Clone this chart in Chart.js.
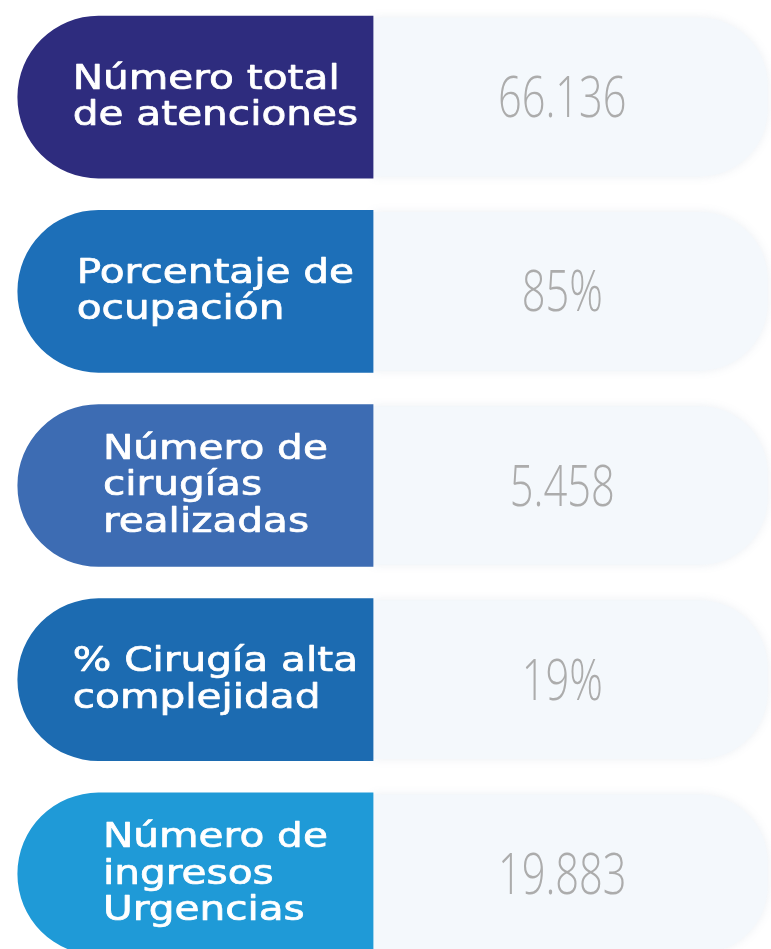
<!DOCTYPE html>
<html lang="es">
<head>
<meta charset="utf-8">
<title>Indicadores</title>
<script src="https://cdn.jsdelivr.net/npm/chart.js@4.4.1/dist/chart.umd.min.js"></script>
<style>
    html, body { margin: 0; padding: 0; background: #ffffff; }
    #marco { width: 771px; height: 949px; overflow: hidden; }
    canvas { display: block; }
</style>
</head>
<body>
<div id="marco"><canvas id="indicadores" width="771" height="971"></canvas></div>
<script>
// ===============================
// DATOS
// ===============================
const categorias = [
    ["Número total", "de atenciones"],
    ["Porcentaje de", "ocupación"],
    ["Número de", "cirugías", "realizadas"],
    ["% Cirugía alta", "complejidad"],
    ["Número de", "ingresos", "Urgencias"]
];
const valores = [66136, 85, 5458, 19, 19883];
const unidades = ["", "%", "", "%", ""];

const coloresEtiqueta = ["#2e2c7e", "#1d6fb8", "#3d6cb3", "#1c6bb1", "#1f9ad7"];
const colorFondo = "#f4f8fc";

// separador de miles con punto
function formatear(v, u) {
    return String(v).replace(/\B(?=(\d{3})+(?!\d))/g, ".") + u;
}

// sombra suave bajo la parte clara
const sombraPlugin = {
    id: "sombra",
    beforeDatasetDraw(chart, args) {
        if (args.index !== 1) return;
        chart.ctx.save();
        chart.ctx.shadowColor = "rgba(110,130,160,0.13)";
        chart.ctx.shadowBlur = 10;
    },
    afterDatasetDraw(chart, args) {
        if (args.index !== 1) return;
        chart.ctx.restore();
    }
};

// ===============================
// TEXTOS DENTRO DE LAS PASTILLAS
// ===============================
const textosPlugin = {
    id: "textos",
    afterDatasetsDraw(chart) {
        const ctx = chart.ctx;
        const etiquetas = chart.getDatasetMeta(0).data;
        const fondos = chart.getDatasetMeta(1).data;

        etiquetas.forEach((bar, i) => {
            // etiqueta blanca, bloque alineado a la izquierda y centrado
            const lineas = categorias[i];
            const tam = 33, sx = 1.23, alto = 36.5;
            ctx.save();
            ctx.font = `${tam}px "DejaVu Sans"`;
            ctx.fillStyle = "#ffffff";
            ctx.strokeStyle = "#ffffff";
            ctx.lineWidth = 0.7;
            ctx.lineJoin = "round";
            ctx.textAlign = "left";
            ctx.textBaseline = "alphabetic";
            const ancho = Math.max(...lineas.map(l => ctx.measureText(l).width)) * sx;
            const centro = (bar.base + bar.x) / 2 + 20;
            const izq = centro - ancho / 2;
            lineas.forEach((l, j) => {
                const base = bar.y + (j - (lineas.length - 1) / 2) * alto + tam * 0.36 - 2;
                ctx.save();
                ctx.translate(izq, base);
                ctx.scale(sx, 1);
                ctx.fillText(l, 0, 0);
                ctx.strokeText(l, 0, 0);
                ctx.restore();
            });
            ctx.restore();

            // valor gris
            const f = fondos[i];
            ctx.save();
            ctx.font = `300 57px "Open Sans"`;
            ctx.fillStyle = "#acacac";
            ctx.textAlign = "center";
            ctx.textBaseline = "alphabetic";
            ctx.translate((f.base + f.x) / 2 - 8, f.y + 20);
            ctx.scale(0.73, 1);
            ctx.fillText(formatear(valores[i], unidades[i]), 0, 0);
            ctx.restore();
        });
    }
};

// ===============================
// GRÁFICO
// ===============================
new Chart(document.getElementById("indicadores"), {
    type: "bar",
    data: {
        labels: categorias,
        datasets: [
            {
                label: "Indicador",
                data: categorias.map(() => 1),
                backgroundColor: coloresEtiqueta,
                borderSkipped: false,
                borderRadius: { topLeft: 81, bottomLeft: 81, topRight: 0, bottomRight: 0 },
                barThickness: 162
            },
            {
                label: "Valor",
                data: categorias.map(() => 1.11),
                backgroundColor: colorFondo,
                borderSkipped: false,
                borderRadius: { topLeft: 0, bottomLeft: 0, topRight: 68, bottomRight: 68 },
                barThickness: 158
            }
        ]
    },
    options: {
        indexAxis: "y",
        responsive: false,
        animation: false,
        layout: { padding: 0 },
        plugins: {
            legend: { display: false },
            tooltip: { enabled: false }
        },
        scales: {
            x: { stacked: true, display: false, min: -0.05, max: 2.12 },
            y: { stacked: true, display: false }
        }
    },
    plugins: [sombraPlugin, textosPlugin]
});
</script>
</body>
</html>
